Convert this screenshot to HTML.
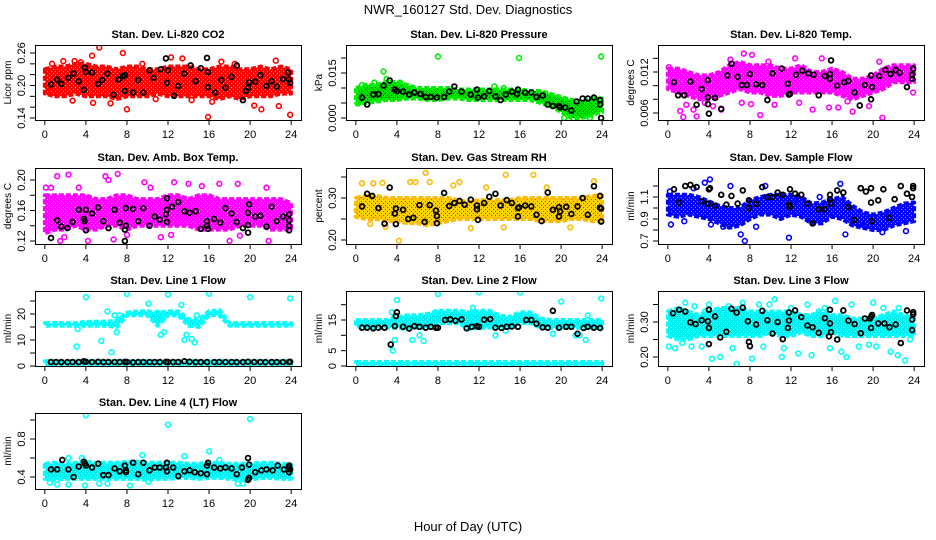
<!DOCTYPE html>
<html><head><meta charset="utf-8">
<style>
html,body{margin:0;padding:0;background:#fff;}
svg{display:block;font-family:"Liberation Sans",Arial,sans-serif;}
</style></head>
<body>
<svg id="chart" width="936" height="540" viewBox="0 0 936 540" xmlns="http://www.w3.org/2000/svg">
<rect x="0" y="0" width="936" height="540" fill="#fff"/>
<text x="468" y="14" text-anchor="middle" font-size="13">NWR_160127  Std. Dev. Diagnostics</text>
<text x="468" y="531" text-anchor="middle" font-size="13">Hour of Day (UTC)</text>
</svg>
<script>
const hours=[0,1,2,3,4,5,6,7,8,9,10,11,12,13,14,15,16,17,18,19,20,21,22,23,24];
const xTicks=[0,4,8,12,16,20,24];

// Panel 1 CO2
const co2Upper=[0.23,0.235,0.235,0.24,0.24,0.235,0.235,0.23,0.235,0.235,0.23,0.23,0.235,0.235,0.235,0.23,0.23,0.235,0.235,0.23,0.23,0.235,0.23,0.235,0.23];
const co2Lower=[0.185,0.18,0.18,0.185,0.18,0.18,0.18,0.175,0.18,0.18,0.18,0.185,0.18,0.18,0.18,0.18,0.18,0.175,0.18,0.175,0.18,0.18,0.18,0.185,0.185];
const co2Pts=[[5.3,0.27],[7.6,0.26],[4.6,0.255],[12.3,0.252],[22.5,0.246],[17.2,0.244],[2.7,0.172],[4.7,0.168],[6.4,0.167],[8.0,0.156],[15.9,0.142],[23.9,0.146],[16.3,0.17],[20.4,0.163],[22.8,0.162],[21.1,0.156],[1.8,0.245],[13.4,0.25],[0.3,0.188],[3.5,0.243],[0.7,0.24],[2.9,0.245],[9.5,0.24],[18.5,0.24],[10.8,0.175],[14.3,0.173]];
const co2Black=[[0.6,0.202],[1.2,0.211],[1.6,0.203],[2.3,0.214],[2.8,0.222],[3.3,0.208],[3.8,0.192],[3.9,0.233],[4.0,0.225],[4.6,0.224],[5.2,0.203],[5.6,0.21],[6.1,0.222],[6.7,0.183],[7.2,0.211],[7.6,0.217],[7.8,0.219],[7.8,0.19],[8.6,0.187],[9.1,0.21],[9.6,0.187],[10.2,0.228],[10.6,0.214],[11.3,0.23],[11.8,0.25],[11.9,0.205],[12.0,0.228],[12.6,0.181],[13.0,0.199],[13.6,0.222],[14.2,0.237],[14.7,0.208],[15.2,0.232],[15.8,0.251],[15.9,0.225],[15.9,0.197],[16.6,0.187],[17.2,0.21],[17.6,0.196],[18.2,0.216],[18.7,0.237],[19.3,0.173],[19.6,0.19],[19.8,0.196],[19.9,0.206],[20.5,0.207],[21.0,0.219],[21.6,0.199],[22.1,0.208],[22.6,0.198],[23.2,0.212],[23.7,0.224],[23.8,0.211],[23.9,0.205]];

// Panel 2 Pressure
const presUpper=[0.010,0.011,0.011,0.012,0.012,0.011,0.010,0.010,0.010,0.010,0.0095,0.0095,0.0095,0.0095,0.0095,0.0095,0.0095,0.009,0.009,0.008,0.007,0.006,0.0055,0.0065,0.0065];
const presLower=[0.005,0.005,0.0055,0.006,0.006,0.0065,0.0065,0.006,0.006,0.0065,0.0065,0.006,0.006,0.006,0.006,0.006,0.006,0.006,0.005,0.004,0.002,0.0,0.0,0.001,0.002];
const presPts=[[8,0.0205],[15.9,0.020],[23.9,0.0205],[2.7,0.0155],[0.6,0.011],[3.0,0.013],[13.5,0.0105],[0.2,0.0048],[20.3,0.0],[22.8,0.0],[1.8,0.0118],[4.3,0.0118],[14.4,0.01]];
const presBlack=[[0.6,0.0068],[1.1,0.0045],[1.7,0.0078],[2.2,0.008],[2.7,0.0108],[3.3,0.0125],[3.8,0.0095],[4.0,0.009],[4.6,0.0088],[5.2,0.0078],[5.7,0.0085],[6.3,0.008],[6.8,0.007],[7.3,0.007],[7.9,0.0068],[8.6,0.007],[9.1,0.0088],[9.6,0.0105],[10.3,0.0088],[11.2,0.0078],[11.8,0.0095],[11.9,0.0068],[12.5,0.0072],[13.0,0.009],[13.6,0.0072],[14.1,0.006],[14.6,0.0078],[15.2,0.0088],[15.7,0.008],[15.8,0.0095],[16.5,0.0085],[17.1,0.0085],[17.6,0.007],[18.2,0.0075],[18.7,0.0045],[19.2,0.004],[19.8,0.004],[19.9,0.0035],[20.4,0.0035],[21.0,0.0025],[21.5,0.0055],[22.1,0.0065],[22.6,0.0065],[23.2,0.0068],[23.8,0.006],[23.8,0.0045],[23.9,0.0]];

// Panel 3 Li-820 Temp
const tempUpper=[0.0125,0.0125,0.012,0.0115,0.0115,0.012,0.013,0.0135,0.013,0.013,0.013,0.0125,0.0125,0.013,0.012,0.012,0.0125,0.012,0.011,0.011,0.0115,0.0125,0.013,0.013,0.013];
const tempLower=[0.0095,0.009,0.0085,0.008,0.008,0.0085,0.009,0.0095,0.009,0.009,0.0085,0.0085,0.009,0.009,0.009,0.009,0.009,0.0085,0.008,0.0085,0.009,0.0095,0.0105,0.0105,0.0105];
const tempPts=[[0.1,0.0127],[1.2,0.0063],[1.5,0.0054],[2.8,0.0055],[2.5,0.0065],[5.2,0.0065],[4.4,0.007],[6.1,0.0138],[7.4,0.0147],[8.2,0.0145],[9.0,0.0057],[10.4,0.0072],[12.4,0.014],[15.0,0.014],[14.1,0.0065],[15.7,0.0068],[16.6,0.0068],[18.0,0.0062],[20.9,0.0053],[19.6,0.007],[20.6,0.0135],[23.9,0.009],[7.2,0.0075],[12.8,0.0075],[1.8,0.0072],[3.6,0.0075],[9.8,0.0135],[17.5,0.0077],[8.1,0.0073]];
const tempBlack=[[0.6,0.0105],[1.0,0.0086],[1.6,0.0086],[2.2,0.0106],[2.8,0.0072],[3.3,0.0095],[3.9,0.0108],[3.9,0.0073],[3.9,0.0083],[4.0,0.0059],[4.6,0.0082],[5.2,0.0066],[5.8,0.0115],[6.2,0.0132],[6.8,0.0113],[7.2,0.0101],[7.7,0.0101],[8.0,0.0117],[8.6,0.0102],[9.2,0.0101],[9.7,0.0079],[10.2,0.0118],[11.1,0.0125],[11.7,0.0103],[11.8,0.0087],[11.9,0.0088],[12.5,0.0116],[13.1,0.0122],[13.7,0.0118],[14.2,0.0116],[14.7,0.0086],[15.3,0.0114],[15.8,0.0117],[15.8,0.011],[15.9,0.0137],[16.5,0.01],[17.2,0.0105],[17.6,0.0107],[18.2,0.009],[18.7,0.0071],[19.2,0.0101],[19.8,0.0115],[19.9,0.0098],[19.8,0.008],[20.6,0.0114],[21.2,0.0123],[21.7,0.0117],[22.2,0.0123],[22.6,0.0119],[23.3,0.0098],[23.8,0.011],[23.8,0.0116],[23.9,0.0125]];

// Panel 4 Amb Box Temp
const ambUpper=[0.18,0.18,0.18,0.18,0.18,0.175,0.175,0.18,0.18,0.175,0.175,0.175,0.18,0.18,0.175,0.18,0.18,0.175,0.175,0.175,0.175,0.175,0.175,0.175,0.17];
const ambLower=[0.13,0.135,0.135,0.14,0.135,0.135,0.14,0.14,0.135,0.14,0.14,0.14,0.14,0.14,0.14,0.135,0.135,0.135,0.135,0.14,0.14,0.14,0.135,0.135,0.135];
const ambPts=[[0.1,0.19],[1.2,0.205],[2.3,0.207],[5.9,0.205],[7.1,0.208],[9.7,0.197],[12.6,0.197],[17.0,0.195],[18.8,0.195],[21.6,0.19],[1.5,0.12],[1.9,0.125],[4.2,0.12],[6.7,0.122],[11.3,0.125],[18.0,0.12],[21.8,0.12],[8.0,0.128],[19.0,0.127],[14.0,0.195],[15.3,0.192],[0.6,0.19],[6.2,0.2],[3.3,0.19],[10.3,0.19],[12.3,0.128]];
const ambBlack=[[0.6,0.124],[1.2,0.147],[1.6,0.139],[2.2,0.137],[2.7,0.145],[3.3,0.161],[3.8,0.149],[4.0,0.161],[3.9,0.146],[4.0,0.134],[4.6,0.156],[5.2,0.164],[5.7,0.146],[6.2,0.137],[6.8,0.161],[7.3,0.144],[7.8,0.135],[7.9,0.14],[7.9,0.163],[7.8,0.12],[8.6,0.162],[9.1,0.146],[9.6,0.163],[10.2,0.14],[10.7,0.152],[11.2,0.148],[11.8,0.155],[11.9,0.145],[11.9,0.161],[11.9,0.176],[12.4,0.165],[13.0,0.171],[13.6,0.159],[14.1,0.157],[14.7,0.159],[15.2,0.136],[15.8,0.146],[15.8,0.14],[15.9,0.136],[16.5,0.149],[17.1,0.144],[17.6,0.163],[18.2,0.156],[18.7,0.145],[19.3,0.137],[19.8,0.157],[19.8,0.141],[19.8,0.131],[19.9,0.168],[20.5,0.152],[21.0,0.153],[21.6,0.139],[22.1,0.165],[22.6,0.146],[23.2,0.152],[23.8,0.155],[23.8,0.147],[23.8,0.14],[23.8,0.134]];

// Panel 5 Gas Stream RH
const rhUpper=[0.30,0.305,0.305,0.30,0.30,0.30,0.30,0.30,0.30,0.30,0.295,0.29,0.295,0.295,0.295,0.295,0.30,0.30,0.30,0.30,0.30,0.30,0.30,0.305,0.305];
const rhLower=[0.255,0.25,0.25,0.245,0.245,0.24,0.24,0.235,0.24,0.245,0.25,0.25,0.25,0.25,0.25,0.25,0.25,0.25,0.245,0.245,0.245,0.25,0.25,0.245,0.245];
const rhPts=[[0.6,0.335],[1.7,0.335],[2.6,0.336],[5.3,0.338],[6.8,0.36],[7.2,0.338],[10.1,0.338],[14.6,0.355],[17.3,0.355],[23.2,0.34],[4.2,0.198],[11.2,0.228],[14.4,0.23],[20.9,0.23],[2.9,0.232],[1.4,0.238],[9.5,0.33],[12.7,0.325],[5.8,0.338],[18.6,0.325]];
const rhBlack=[[0.6,0.28],[1.1,0.31],[1.6,0.305],[2.2,0.276],[2.8,0.239],[3.3,0.325],[3.8,0.263],[3.9,0.275],[3.9,0.238],[4.6,0.272],[5.1,0.25],[5.6,0.253],[6.2,0.283],[6.7,0.243],[7.2,0.283],[7.8,0.27],[7.9,0.257],[7.9,0.24],[8.6,0.312],[9.1,0.281],[9.6,0.288],[10.1,0.293],[10.6,0.284],[11.2,0.296],[11.8,0.282],[11.8,0.273],[11.9,0.248],[12.5,0.288],[13.0,0.303],[13.6,0.31],[14.1,0.282],[14.7,0.295],[15.2,0.288],[15.8,0.276],[15.8,0.256],[15.9,0.278],[16.5,0.282],[17.1,0.28],[17.6,0.26],[18.1,0.245],[18.7,0.313],[19.2,0.272],[19.8,0.278],[19.8,0.256],[19.9,0.268],[20.5,0.279],[21.0,0.262],[21.6,0.28],[22.1,0.3],[22.6,0.26],[23.2,0.328],[23.8,0.305],[23.8,0.277],[23.9,0.275],[23.9,0.244]];

// Panel 6 Sample Flow
const sfUpper=[1.12,1.12,1.12,1.10,1.06,1.02,1.00,1.00,1.07,1.10,1.12,1.12,1.12,1.10,1.04,1.05,1.08,1.10,1.02,0.96,0.94,0.96,1.00,1.04,1.05];
const sfLower=[0.94,0.92,0.94,0.92,0.90,0.86,0.82,0.84,0.90,0.94,0.94,0.90,0.94,0.92,0.86,0.86,0.92,0.90,0.84,0.82,0.80,0.80,0.84,0.86,0.88];
const sfPts=[[4.1,1.26],[3.6,1.23],[6.1,1.2],[9.5,1.2],[16.8,1.22],[0.3,0.85],[1.6,0.88],[4.2,0.85],[7.1,0.76],[7.5,0.70],[11.8,0.73],[17.3,0.76],[23.2,0.79],[8.6,0.83],[19.1,0.84],[0.2,1.15],[2.5,1.18],[14.8,1.1],[20.9,0.78],[5.4,0.83],[12.4,1.06]];
const sfBlack=[[0.6,1.17],[1.1,1.05],[1.7,1.2],[2.2,1.21],[2.8,1.19],[3.3,1.06],[3.9,1.04],[4.0,1.17],[4.1,1.18],[4.6,1.02],[5.2,1.12],[5.7,1.03],[6.2,1.11],[6.8,1.04],[7.3,1.16],[7.9,1.07],[7.9,1.0],[8.6,1.04],[9.2,1.19],[9.7,1.1],[10.2,1.1],[10.7,1.14],[11.2,1.12],[11.8,1.03],[11.9,1.17],[11.9,1.01],[12.4,1.13],[13.0,1.12],[13.6,1.04],[14.1,0.86],[14.7,0.99],[15.3,0.99],[15.8,1.12],[15.9,1.04],[15.8,1.08],[16.5,1.16],[17.1,1.14],[17.6,1.01],[18.2,0.89],[18.8,1.18],[19.3,1.15],[19.8,1.18],[19.8,1.05],[19.9,0.88],[20.5,1.07],[21.0,1.17],[21.6,0.91],[22.1,1.08],[22.7,1.2],[23.3,1.13],[23.8,1.1],[23.9,1.2],[23.9,1.18]];

// Panel 7 Line 1 Flow
const l1Upper=[16.5,16.5,16.5,16.5,17,17,17,17.5,20.5,21,21,20.5,21,21,18,18,21,21.5,16.5,16.5,16.5,16.5,16.5,16.5,16.5];
const l1Lower=[15.5,15.5,15.5,15.5,15.5,15.5,15.5,15,19.5,19.5,19.5,15.5,19.5,19.5,15.5,15,19.5,19.5,15.5,15.5,15.5,15.5,15.5,15.5,15.5];
const l1LowUpper=[1.8,1.8,1.8,1.8,1.8,1.8,1.8,1.8,1.8,1.8,1.8,1.8,1.8,1.8,1.8,1.8,1.8,1.8,1.8,1.8,1.8,1.8,1.8,1.8,1.8];
const l1LowLower=[0.6,0.6,0.6,0.6,0.6,0.6,0.6,0.6,0.6,0.6,0.5,0.6,0.6,0.6,0.6,0.6,0.6,0.6,0.6,0.6,0.6,0.6,0.6,0.6,0.6];
const l1Pts=[[4,26.5],[8,27.7],[12,27.5],[16,27.8],[20,26.5],[23.9,26],[3.1,7.5],[5.5,9.7],[6.5,5.3],[6.1,21],[10.1,24],[11,20.5],[13.3,23.5],[13.6,10],[13.8,12],[14.3,10.4],[14.6,9],[11.3,12],[11.6,13],[7.0,13],[3.2,14.2],[6.8,19.5],[7.3,19.5],[14.8,19.5],[11.5,18]];
const l1Black=[[0.6,1.5],[1.1,1.5],[1.6,1.5],[2.2,1.5],[2.7,1.5],[3.3,1.5],[3.8,1.8],[4.0,1.6],[4.6,1.5],[5.2,1.6],[5.7,1.5],[6.2,1.5],[6.8,1.5],[7.3,1.5],[7.8,1.6],[8.0,1.5],[8.6,1.4],[9.1,1.5],[9.6,1.5],[10.2,1.5],[10.7,1.5],[11.2,1.5],[11.8,1.6],[12.0,1.5],[12.5,1.5],[13.0,1.5],[13.6,1.8],[14.1,1.6],[14.7,1.5],[15.2,1.5],[15.8,1.5],[16.5,1.5],[17.0,1.5],[17.6,1.5],[18.2,1.5],[18.7,1.5],[19.3,1.5],[19.8,1.6],[20.4,1.5],[21.0,1.5],[21.5,1.5],[22.1,1.5],[22.6,1.5],[23.2,1.5],[23.8,1.5],[23.9,1.6]];

// Panel 8 Line 2 Flow
const l2Upper=[15,15,15,15,16,16.5,16.5,17,18,18,18,17.5,18,18,16.5,16,17.5,17.5,15.5,15,15,15,15,15,15];
const l2Lower=[13,12.5,12.5,12.5,12.5,12.5,12.5,12.5,14,14,14,12,12.5,12.5,12.5,12.5,14,14,12.5,12.5,12.5,12.5,12.5,12.5,12.5];
const l2LowUpper=[1.3,1.3,1.3,1.3,1.3,1.3,1.3,1.3,1.3,1.3,1.3,1.3,1.3,1.3,1.3,1.3,1.3,1.3,1.3,1.3,1.3,1.3,1.3,1.3,1.3];
const l2LowLower=[0.3,0.3,0.3,0.3,0.3,0.3,0.3,0.3,0.3,0.3,0.3,0.3,0.3,0.3,0.3,0.3,0.3,0.3,0.3,0.3,0.3,0.3,0.3,0.3,0.3];
const l2Pts=[[4,21.5],[8,23.5],[12,24],[16,24],[20,21],[23.9,22],[3.5,17.5],[3.6,5],[3.8,8.5],[5.5,8.5],[6.6,8.2],[6.2,10],[11.4,19],[13.6,10],[14.6,11.5],[19.2,10.5],[21.4,10],[21.8,10],[22.4,8.5],[22.6,16.5],[4.6,12.5],[7.8,17.5],[11.6,17.5]];
const l2Black=[[0.6,12.5],[1.1,12.5],[1.7,12.3],[2.2,12.5],[2.8,12.5],[3.4,7],[3.8,13],[3.9,16.3],[4.0,17.5],[4.6,12.8],[5.2,12.2],[5.7,13],[6.2,12.8],[6.8,12.5],[7.3,12.8],[7.8,12.5],[8.0,12.5],[8.7,15],[9.2,15.2],[9.7,14.8],[10.3,15.2],[10.8,12.3],[11.3,12.8],[11.8,13],[12.0,12.8],[12.5,15.1],[13.1,15.3],[13.6,12.5],[14.2,12.4],[14.7,12.8],[15.2,12.9],[15.8,12.8],[16.6,15],[17.1,15],[17.6,13.8],[18.2,12.6],[18.7,12.5],[19.2,18],[19.8,12.5],[20.5,12.8],[21.0,12.8],[21.6,10.5],[22.2,12.4],[22.6,12.8],[23.2,12.5],[23.8,12.4]];

// Panel 9 Line 3 Flow
const l3Upper=[0.33,0.34,0.33,0.32,0.33,0.34,0.34,0.34,0.33,0.33,0.33,0.33,0.33,0.32,0.32,0.33,0.32,0.32,0.31,0.31,0.31,0.32,0.33,0.32,0.31];
const l3Lower=[0.26,0.25,0.25,0.26,0.26,0.26,0.26,0.26,0.26,0.26,0.27,0.26,0.26,0.27,0.26,0.26,0.27,0.26,0.26,0.26,0.26,0.26,0.26,0.26,0.26];
const l3Pts=[[0.1,0.23],[0.7,0.225],[1.4,0.24],[1.7,0.355],[2.3,0.23],[2.6,0.345],[3.3,0.23],[4.0,0.35],[4.3,0.195],[5.1,0.2],[5.9,0.345],[6.3,0.225],[6.7,0.18],[7.3,0.355],[8.2,0.195],[8.9,0.35],[9.3,0.23],[9.9,0.35],[10.4,0.365],[11.1,0.2],[11.3,0.225],[12.0,0.34],[12.7,0.21],[13.6,0.35],[14.0,0.205],[14.7,0.33],[15.3,0.34],[15.8,0.225],[16.3,0.36],[16.9,0.215],[17.4,0.2],[17.9,0.35],[18.6,0.23],[19.6,0.235],[20.0,0.355],[20.3,0.23],[21.0,0.34],[21.7,0.215],[22.4,0.205],[23.1,0.19],[23.6,0.25],[22.5,0.34],[1.0,0.335],[3.6,0.33],[5.5,0.33]];
const l3Black=[[0.5,0.325],[1.1,0.335],[1.7,0.33],[2.2,0.299],[2.7,0.294],[3.3,0.305],[3.9,0.302],[4.0,0.335],[4.0,0.283],[4.0,0.237],[4.6,0.316],[5.1,0.256],[5.7,0.272],[6.2,0.338],[6.7,0.327],[7.3,0.341],[7.8,0.302],[7.9,0.243],[8.0,0.231],[8.6,0.293],[9.2,0.332],[9.7,0.305],[10.2,0.267],[10.7,0.3],[11.2,0.251],[11.7,0.283],[11.8,0.304],[11.8,0.327],[12.4,0.333],[13.0,0.314],[13.6,0.29],[14.1,0.285],[14.7,0.269],[15.3,0.311],[15.8,0.335],[15.8,0.296],[15.9,0.271],[15.7,0.259],[16.5,0.25],[17.1,0.333],[17.6,0.304],[18.2,0.294],[18.8,0.268],[19.2,0.31],[19.7,0.31],[19.8,0.315],[19.8,0.283],[19.9,0.32],[20.5,0.296],[21.1,0.296],[21.6,0.285],[22.2,0.293],[22.7,0.24],[23.3,0.333],[23.8,0.307],[23.8,0.277],[23.9,0.322],[23.9,0.328]];

// Panel 10 Line 4 (LT) Flow
const l4Upper=[0.54,0.55,0.54,0.55,0.56,0.55,0.55,0.55,0.56,0.56,0.55,0.55,0.55,0.55,0.54,0.54,0.55,0.55,0.54,0.54,0.54,0.55,0.55,0.54,0.53];
const l4Lower=[0.38,0.37,0.38,0.38,0.38,0.38,0.38,0.38,0.38,0.38,0.37,0.38,0.38,0.39,0.39,0.38,0.39,0.39,0.38,0.37,0.37,0.39,0.39,0.38,0.38];
const l4Pts=[[4,1.05],[12,0.95],[20,1.01],[16,0.67],[9.5,0.63],[13.6,0.62],[2.3,0.6],[0.1,0.52],[0.5,0.34],[1.2,0.32],[2.3,0.32],[3.9,0.31],[6.1,0.33],[8.3,0.31],[10.1,0.35],[18.8,0.33],[19.3,0.33],[17.0,0.58],[5.3,0.33],[3.6,0.6]];
const l4Black=[[0.6,0.48],[1.2,0.48],[1.7,0.58],[2.3,0.48],[2.8,0.4],[3.3,0.51],[3.8,0.56],[3.9,0.54],[4.0,0.52],[4.6,0.5],[5.2,0.54],[5.7,0.42],[6.2,0.42],[6.8,0.49],[7.3,0.46],[7.8,0.52],[7.9,0.47],[7.9,0.45],[8.6,0.55],[9.1,0.43],[9.6,0.55],[10.2,0.47],[10.7,0.5],[11.2,0.5],[11.8,0.5],[11.9,0.55],[11.9,0.46],[12.5,0.5],[13.0,0.41],[13.6,0.46],[14.1,0.47],[14.6,0.45],[15.2,0.44],[15.8,0.43],[15.8,0.52],[15.9,0.55],[16.5,0.5],[17.1,0.49],[17.6,0.5],[18.2,0.49],[18.7,0.43],[19.2,0.5],[19.8,0.6],[19.8,0.37],[19.9,0.39],[19.9,0.53],[20.5,0.45],[21.1,0.47],[21.6,0.48],[22.2,0.47],[22.7,0.52],[23.3,0.48],[23.8,0.5],[23.8,0.52],[23.8,0.45],[23.9,0.48]];

// Tick values and labels
const co2Ticks=[0.14,0.16,0.18,0.20,0.22,0.24,0.26], co2Labels=["0.14","","","0.20","","","0.26"];
const presTicks=[0,0.005,0.010,0.015,0.020], presLabels=["0.000","","","0.015",""];
const tempTicks=[0.006,0.008,0.010,0.012,0.014], tempLabels=["0.006","","","0.012",""];
const ambTicks=[0.12,0.14,0.16,0.18,0.20], ambLabels=["0.12","","0.16","","0.20"];
const rhTicks=[0.20,0.25,0.30,0.35], rhLabels=["0.20","","0.30",""];
const sfTicks=[0.7,0.8,0.9,1.0,1.1,1.2], sfLabels=["0.7","","0.9","","1.1",""];
const l1Ticks=[0,5,10,15,20,25], l1Labels=["0","","10","","20",""];
const l2Ticks=[0,5,10,15,20], l2Labels=["0","5","","15",""];
const l3Ticks=[0.20,0.25,0.30,0.35], l3Labels=["0.20","","0.30",""];
const l4Ticks=[0.4,0.6,0.8,1.0], l4Labels=["0.4","","0.8",""];

const NS="http://www.w3.org/2000/svg";
const svg=document.getElementById('chart');
const colL=[35,346,658], rowT=[45,168,291,413], rowB=[120,244,366,489], W=266;

const panels=[
 {name:'co2',c:0,r:0,title:'Stan. Dev. Li-820 CO2',ylab:'Licor ppm',color:'#ff0000',bg:'#ff0000',dot:'#ff9a9a',ya:[0.14,118,0.26,53],up:co2Upper,lo:co2Lower,pts:co2Pts,blk:co2Black,ticks:co2Ticks,labels:co2Labels},
 {name:'pressure',c:1,r:0,title:'Stan. Dev. Li-820 Pressure',ylab:'kPa',color:'#00ee00',bg:'#00dd00',dot:'#114411',ya:[0,118,0.015,73],up:presUpper,lo:presLower,pts:presPts,blk:presBlack,ticks:presTicks,labels:presLabels},
 {name:'li820-temp',c:2,r:0,title:'Stan. Dev. Li-820 Temp.',ylab:'degrees C',color:'#ff00ff',bg:'#ff00ff',dot:'#ffa0ff',ya:[0.006,113,0.012,72],up:tempUpper,lo:tempLower,pts:tempPts,blk:tempBlack,ticks:tempTicks,labels:tempLabels},
 {name:'amb-box-temp',c:0,r:1,title:'Stan. Dev. Amb. Box Temp.',ylab:'degrees C',color:'#ff00ff',bg:'#ff00ff',dot:'#ffa0ff',ya:[0.12,241,0.20,180],up:ambUpper,lo:ambLower,pts:ambPts,blk:ambBlack,ticks:ambTicks,labels:ambLabels},
 {name:'gas-stream-rh',c:1,r:1,title:'Stan. Dev. Gas Stream RH',ylab:'percent',color:'#ffbb00',bg:'#ffd000',dot:'#e03000',ya:[0.20,240,0.30,198],up:rhUpper,lo:rhLower,pts:rhPts,blk:rhBlack,ticks:rhTicks,labels:rhLabels},
 {name:'sample-flow',c:2,r:1,title:'Stan. Dev. Sample Flow',ylab:'ml/min',color:'#0000ff',bg:'#0000ff',dot:'#8888ff',ya:[0.7,241,1.1,197],up:sfUpper,lo:sfLower,pts:sfPts,blk:sfBlack,ticks:sfTicks,labels:sfLabels},
 {name:'line1-flow',c:0,r:2,title:'Stan. Dev. Line 1 Flow',ylab:'ml/min',color:'#00ffff',bg:'#00f0f0',dot:'#b0ffff',ya:[0,366,20,314],up:l1Upper,lo:l1Lower,up2:l1LowUpper,lo2:l1LowLower,pts:l1Pts,blk:l1Black,ticks:l1Ticks,labels:l1Labels},
 {name:'line2-flow',c:1,r:2,title:'Stan. Dev. Line 2 Flow',ylab:'ml/min',color:'#00ffff',bg:'#00f0f0',dot:'#b0ffff',ya:[0,366,15,320],up:l2Upper,lo:l2Lower,up2:l2LowUpper,lo2:l2LowLower,pts:l2Pts,blk:l2Black,ticks:l2Ticks,labels:l2Labels},
 {name:'line3-flow',c:2,r:2,title:'Stan. Dev. Line 3 Flow',ylab:'ml/min',color:'#00ffff',bg:'#00f0f0',dot:'#b0ffff',ya:[0.20,357,0.30,322],up:l3Upper,lo:l3Lower,pts:l3Pts,blk:l3Black,ticks:l3Ticks,labels:l3Labels},
 {name:'line4-flow',c:0,r:3,title:'Stan. Dev. Line 4 (LT) Flow',ylab:'ml/min',color:'#00ffff',bg:'#00f0f0',dot:'#b0ffff',ya:[0.4,477,0.8,439],up:l4Upper,lo:l4Lower,pts:l4Pts,blk:l4Black,ticks:l4Ticks,labels:l4Labels}
];

function mk(tag,attrs,parent){const e=document.createElementNS(NS,tag);for(const k in attrs)e.setAttribute(k,attrs[k]);(parent||svg).appendChild(e);return e;}

const defs=mk('defs',{});
panels.forEach(p=>{
 const pat=mk('pattern',{id:'pat-'+p.name,width:'4',height:'4',patternUnits:'userSpaceOnUse'},defs);
 mk('rect',{x:0,y:0,width:4,height:4,fill:p.bg},pat);
 mk('rect',{x:1,y:1,width:1,height:1,fill:p.dot},pat);
 mk('rect',{x:3,y:3,width:1,height:1,fill:p.dot},pat);
});

panels.forEach(p=>{
 const L=colL[p.c], T=rowT[p.r], B=rowB[p.r], R=L+W;
 const pad=W*0.04/1.08;
 const xs=h=>L+pad+h*(W-2*pad)/24;
 const ys=v=>p.ya[1]+(v-p.ya[0])*(p.ya[3]-p.ya[1])/(p.ya[2]-p.ya[0]);
 const g=mk('g',{});
 
 
 const title=mk('text',{x:(L+R)/2,y:T-7,'text-anchor':'middle','font-size':'11','font-weight':'bold'},g);
 title.textContent=p.title;
 
 
 const clip=mk('clipPath',{id:'clip-'+p.name},g);
 mk('rect',{x:L,y:T,width:W,height:B-T},clip);
 const plot=mk('g',{'clip-path':'url(#clip-'+p.name+')'},g);
 
 
 const band=(up,lo,nm)=>{
   let d='';
   hours.forEach((h,i)=>{d+=(i?'L':'M')+xs(h).toFixed(1)+' '+ys(up[i]).toFixed(1)+' ';});
   for(let i=hours.length-1;i>=0;i--){d+='L'+xs(hours[i]).toFixed(1)+' '+ys(lo[i]).toFixed(1)+' ';}
   d+='Z';
   const b=mk('path',{d:d,fill:'url(#pat-'+p.name+')',stroke:p.color,'stroke-width':'4','stroke-linejoin':'round','stroke-dasharray':'5 2'},plot);
   
   
 };
 band(p.up,p.lo,'data-band-'+p.name);
 if(p.up2) band(p.up2,p.lo2,'data-low-band-'+p.name);
 p.pts.forEach(pt=>{
   const c=mk('circle',{cx:xs(pt[0]),cy:ys(pt[1]),r:2.4,fill:'none',stroke:p.color,'stroke-width':'1.6'},plot);
   
   
 });
 p.blk.forEach(pt=>{
   const c=mk('circle',{cx:xs(pt[0]),cy:ys(pt[1]),r:2.4,fill:'none',stroke:'#000','stroke-width':'1.8'},plot);
   
   
 });
 const box=mk('rect',{x:L+0.5,y:T+0.5,width:W,height:B-T,fill:'none',stroke:'#000','stroke-width':'1'},g);
 
 
 xTicks.forEach(h=>{
   const x=xs(h);
   mk('line',{x1:x,y1:B,x2:x,y2:B+5,stroke:'#000'},g);
   const t=mk('text',{x:x,y:B+18,'text-anchor':'middle','font-size':'11'},g);
   t.textContent=h;
   
   
 });
 p.ticks.forEach((v,i)=>{
   const y=ys(v);
   mk('line',{x1:L-5,y1:y,x2:L,y2:y,stroke:'#000'},g);
   if(p.labels[i]){
     const t=mk('text',{x:0,y:0,'text-anchor':'middle','font-size':'11',transform:'translate('+(L-10)+','+y+') rotate(-90)'},g);
     t.textContent=p.labels[i];
     
     
   }
 });
 const yl=mk('text',{x:0,y:0,'text-anchor':'middle','font-size':'10',transform:'translate('+(L-24)+','+((T+B)/2)+') rotate(-90)'},g);
 yl.textContent=p.ylab;
 
 
});
</script>
</body></html>
